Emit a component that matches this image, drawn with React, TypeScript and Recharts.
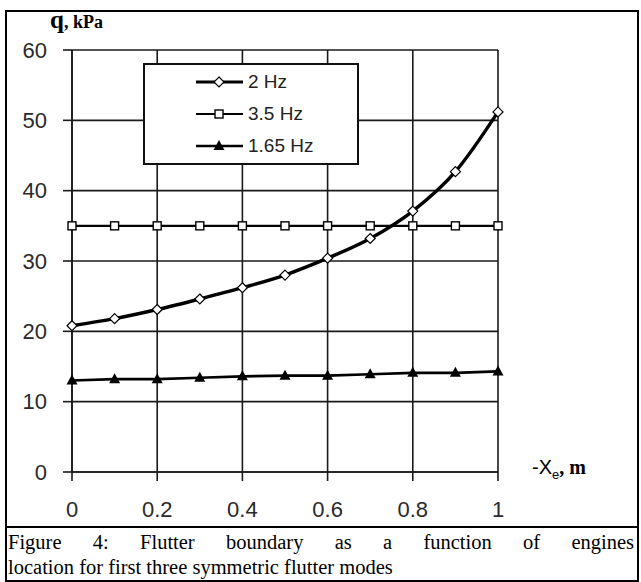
import React from 'react';
import { LineChart, Line, XAxis, YAxis, CartesianGrid } from 'recharts';

// engine position -Xe, m
const positions = [0, 0.1, 0.2, 0.3, 0.4, 0.5, 0.6, 0.7, 0.8, 0.9, 1];
// flutter dynamic pressure q, kPa
const q2Hz = [20.8, 21.8, 23.1, 24.6, 26.2, 28.0, 30.4, 33.2, 37.1, 42.7, 51.2];
const q35Hz = [35, 35, 35, 35, 35, 35, 35, 35, 35, 35, 35];
const q165Hz = [13.0, 13.2, 13.2, 13.4, 13.6, 13.7, 13.7, 13.9, 14.1, 14.1, 14.3];

const xTicks = [0, 0.2, 0.4, 0.6, 0.8, 1];
const yTicks = [0, 10, 20, 30, 40, 50, 60];

const data = positions.map((x, i) => ({
  x,
  f2: q2Hz[i],
  f35: q35Hz[i],
  f165: q165Hz[i],
}));

const tickFont = { fill: '#2a2a2a', fontSize: 22, fontFamily: 'Liberation Sans, Arial, sans-serif' };

function Diamond({ cx, cy }: any) {
  if (cx == null || cy == null) return null;
  return (
    <polygon
      points={`${cx},${cy - 5} ${cx + 5},${cy} ${cx},${cy + 5} ${cx - 5},${cy}`}
      fill="#fff"
      stroke="#000"
      strokeWidth={1.2}
    />
  );
}

function Square({ cx, cy }: any) {
  if (cx == null || cy == null) return null;
  return <rect x={cx - 4} y={cy - 4} width={8} height={8} fill="#fff" stroke="#000" strokeWidth={1.4} />;
}

function Triangle({ cx, cy }: any) {
  if (cx == null || cy == null) return null;
  return <polygon points={`${cx},${cy - 6} ${cx + 5.5},${cy + 4} ${cx - 5.5},${cy + 4}`} fill="#000" />;
}

const legendItems = [
  { name: '2 Hz', Marker: Diamond, width: 3 },
  { name: '3.5 Hz', Marker: Square, width: 2.2 },
  { name: '1.65 Hz', Marker: Triangle, width: 2.6 },
];

function ChartLegend() {
  return (
    <div
      style={{
        position: 'absolute',
        left: 143,
        top: 63,
        width: 212,
        height: 98,
        background: '#fff',
        border: '2px solid #111',
        fontFamily: 'Liberation Sans, Arial, sans-serif',
        fontSize: 19,
        color: '#222',
      }}
    >
      {legendItems.map((item, i) => (
        <div
          key={item.name}
          style={{ position: 'absolute', left: 50, top: 4 + i * 32, height: 26, display: 'flex', alignItems: 'center' }}
        >
          <svg width={50} height={20}>
            <line x1={1} y1={10} x2={48} y2={10} stroke="#000" strokeWidth={item.width} />
            <item.Marker cx={24} cy={10} />
          </svg>
          <span style={{ marginLeft: 3 }}>{item.name}</span>
        </div>
      ))}
    </div>
  );
}

export default function App() {
  return (
    <div
      style={{
        position: 'absolute',
        left: 0,
        top: 0,
        width: 641,
        height: 582,
        background: '#fff',
      }}
    >
      <div
        style={{
          position: 'absolute',
          left: 5,
          top: 10,
          width: 630,
          height: 568,
          border: '2px solid #000',
        }}
      />
      <div style={{ position: 'absolute', left: 5, top: 526, width: 632, height: 2, background: '#000' }} />

      <div style={{ position: 'absolute', left: 0, top: 0 }}>
        <LineChart width={641} height={527} data={data} margin={{ top: 50, right: 143, bottom: 0, left: 0 }}>
          <CartesianGrid stroke="#1a1a1a" strokeWidth={1.6} />
          <XAxis
            dataKey="x"
            type="number"
            domain={[0, 1]}
            ticks={xTicks}
            height={55}
            tick={tickFont}
            tickSize={9}
            tickMargin={20}
            stroke="#1a1a1a"
            strokeWidth={1.6}
          />
          <YAxis
            type="number"
            domain={[0, 60]}
            ticks={yTicks}
            width={72}
            tick={{ ...tickFont, dx: -14 }}
            tickSize={9}
            stroke="#1a1a1a"
            strokeWidth={1.6}
          />
          <Line
            dataKey="f35"
            type="linear"
            stroke="#000"
            strokeWidth={2.2}
            dot={<Square />}
            isAnimationActive={false}
          />
          <Line
            dataKey="f165"
            type="linear"
            stroke="#000"
            strokeWidth={2.6}
            dot={<Triangle />}
            isAnimationActive={false}
          />
          <Line
            dataKey="f2"
            type="monotone"
            stroke="#000"
            strokeWidth={3.4}
            dot={<Diamond />}
            isAnimationActive={false}
          />
        </LineChart>
      </div>

      <ChartLegend />

      <div
        style={{
          position: 'absolute',
          left: 50,
          top: 6,
          fontFamily: 'Liberation Serif, Times New Roman, serif',
          fontWeight: 'bold',
          color: '#000',
          whiteSpace: 'nowrap',
        }}
      >
        <span style={{ fontSize: 25 }}>q</span>
        <span style={{ fontSize: 18 }}>, kPa</span>
      </div>

      <div style={{ position: 'absolute', left: 532, top: 456, whiteSpace: 'nowrap', color: '#000' }}>
        <span style={{ fontFamily: 'Liberation Sans, Arial, sans-serif', fontSize: 20 }}>-X</span>
        <span style={{ fontFamily: 'Liberation Sans, Arial, sans-serif', fontSize: 13, position: 'relative', top: 5 }}>e</span>
        <span style={{ fontFamily: 'Liberation Serif, Times New Roman, serif', fontWeight: 'bold', fontSize: 20 }}>, m</span>
      </div>

      <div
        style={{
          position: 'absolute',
          left: 8,
          top: 530,
          width: 626,
          fontFamily: 'Liberation Serif, Times New Roman, serif',
          fontSize: 20.5,
          lineHeight: '25px',
          color: '#000',
        }}
      >
        <div style={{ textAlign: 'justify', textAlignLast: 'justify' }}>
          Figure 4: Flutter boundary as a function of engines
        </div>
        <div>location for first three symmetric flutter modes</div>
      </div>
    </div>
  );
}
